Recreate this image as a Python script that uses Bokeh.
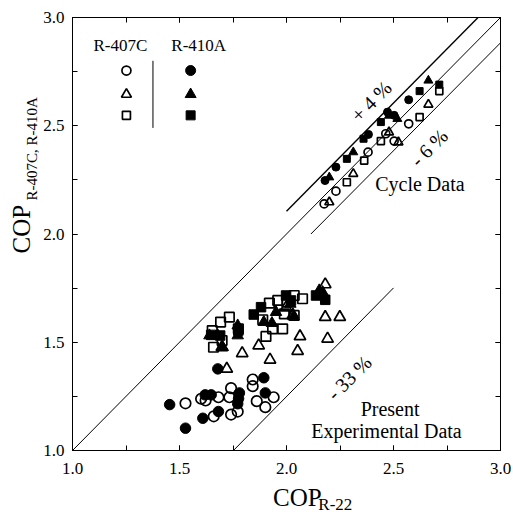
from bokeh.plotting import figure
from bokeh.models import Range1d, LinearAxis, SingleIntervalTicker, PrintfTickFormatter
from bokeh.layouts import row, column
from bokeh.core.properties import value
from bokeh.embed import file_html
from bokeh.resources import INLINE

FONT = "Liberation Serif"

# ---------------- data ----------------
# Cycle data (upper cluster)
cyc_410_circ_x = [2.180, 2.231, 2.383, 2.472, 2.503, 2.571]
cyc_410_circ_y = [2.247, 2.309, 2.460, 2.563, 2.548, 2.620]
cyc_410_tri_x = [2.200, 2.312, 2.479, 2.518, 2.663]
cyc_410_tri_y = [2.262, 2.378, 2.547, 2.532, 2.709]
cyc_410_sq_x = [2.282, 2.360, 2.441, 2.622, 2.714]
cyc_410_sq_y = [2.347, 2.440, 2.517, 2.660, 2.690]
cyc_407_circ_x = [2.176, 2.231, 2.381, 2.464, 2.503, 2.571]
cyc_407_circ_y = [2.139, 2.198, 2.378, 2.463, 2.429, 2.509]
cyc_407_tri_x = [2.200, 2.312, 2.479, 2.523, 2.663]
cyc_407_tri_y = [2.147, 2.278, 2.470, 2.424, 2.598]
cyc_407_sq_x = [2.282, 2.363, 2.441, 2.622, 2.714]
cyc_407_sq_y = [2.239, 2.339, 2.429, 2.540, 2.660]

# Present experimental data (lower cluster)
exp_410_circ_x = [1.454, 1.528, 1.609, 1.620, 1.648, 1.682, 1.679, 1.780, 1.772, 1.894, 1.901, 1.776]
exp_410_circ_y = [1.212, 1.103, 1.149, 1.257, 1.257, 1.180, 1.377, 1.266, 1.216, 1.336, 1.266, 1.240]
exp_410_tri_x = [1.640, 1.679, 1.702, 1.772, 1.772, 1.894, 1.932, 1.951, 2.018, 2.033, 2.153, 2.169]
exp_410_tri_y = [1.531, 1.531, 1.477, 1.577, 1.531, 1.593, 1.588, 1.639, 1.677, 1.619, 1.739, 1.731]
exp_410_sq_x = [1.847, 1.881, 1.998, 2.021, 2.138, 2.181, 1.775, 1.690, 1.648]
exp_410_sq_y = [1.628, 1.662, 1.716, 1.693, 1.716, 1.696, 1.554, 1.531, 1.534]
exp_407_circ_x = [1.528, 1.601, 1.622, 1.682, 1.660, 1.741, 1.733, 1.741, 1.772, 1.842, 1.842, 1.861, 1.901, 1.940]
exp_407_circ_y = [1.218, 1.239, 1.231, 1.246, 1.158, 1.288, 1.246, 1.166, 1.180, 1.328, 1.297, 1.228, 1.200, 1.246]
exp_407_tri_x = [1.721, 1.793, 1.870, 1.923, 2.063, 2.052, 2.181, 2.249, 2.192, 2.181, 1.698, 1.998, 2.030]
exp_407_tri_y = [1.377, 1.449, 1.485, 1.419, 1.527, 1.459, 1.616, 1.616, 1.516, 1.767, 1.477, 1.660, 1.625]
exp_407_sq_x = [1.653, 1.692, 1.733, 1.659, 1.699, 1.904, 1.935, 1.982, 1.889, 1.920, 1.959, 2.002, 2.036, 2.075, 2.036, 1.990, 1.775]
exp_407_sq_y = [1.554, 1.593, 1.616, 1.477, 1.508, 1.527, 1.562, 1.562, 1.604, 1.681, 1.693, 1.685, 1.716, 1.701, 1.624, 1.631, 1.562]

# Reference lines
diag_x = [1.0, 3.0]
diag_y = [1.0, 3.0]
plus4_x = [2.0, 2.895]
plus4_y = [2.105, 3.0]
minus6_x = [2.114, 3.0]
minus6_y = [2.0, 2.883]
minus33_x = [1.752, 2.5]
minus33_y = [1.0, 1.751]

# Legend
legend_titles = ["R-407C", "R-410A"]
legend_title_x = [1.224, 1.590]
legend_title_y = [2.871, 2.871]
leg_open_x = [1.252]
leg_filled_x = [1.552]
leg_circ_y = [2.755]
leg_tri_y = [2.645]
leg_sq_y = [2.548]
leg_sep_x = [1.376, 1.376]
leg_sep_y = [2.49, 2.80]

# Annotations
note_texts = ["+ 4 %", "- 6 %", "- 33 %"]
note_x = [2.396, 2.666, 2.293]
note_y = [2.613, 2.398, 1.336]
label_texts = ["Cycle  Data", "Present", "Experimental  Data"]
label_x = [2.635, 2.484, 2.479]
label_y = [2.232, 1.193, 1.089]

# Axis titles (main text + subscript)
x_title = ["COP"]
x_title_sub = ["R-22"]
y_title = ["COP"]
y_title_sub = ["R-407C, R-410A"]

tick_interval = 0.5

# ---------------- main figure ----------------
p = figure(width=473, height=485, output_backend="svg", toolbar_location=None,
           x_range=Range1d(1.0, 3.0), y_range=Range1d(1.0, 3.0),
           min_border_left=31, min_border_right=13, min_border_top=17, min_border_bottom=35)
p.grid.visible = False
p.outline_line_color = "black"
p.outline_line_width = 1
p.background_fill_color = "white"
p.border_fill_color = "white"


def style_axis(ax, show_labels, standoff=8):
    ax.ticker = SingleIntervalTicker(interval=tick_interval, num_minor_ticks=2)
    ax.formatter = PrintfTickFormatter(format="%.1f")
    ax.major_tick_in = 5
    ax.major_tick_out = 0
    ax.minor_tick_in = 5
    ax.minor_tick_out = 0
    ax.axis_line_color = "black"
    ax.major_tick_line_color = "black"
    ax.minor_tick_line_color = "black"
    ax.major_label_text_font = FONT
    if show_labels:
        ax.major_label_text_color = "black"
        ax.major_label_text_font_size = "17px"
        ax.major_label_standoff = standoff
    else:
        ax.major_label_text_color = None
        ax.major_label_text_font_size = "1px"
        ax.major_label_standoff = 0


style_axis(p.xaxis[0], True, 12)
style_axis(p.yaxis[0], True, 8)
rax = LinearAxis()
style_axis(rax, False)
p.add_layout(rax, "right")
tax = LinearAxis()
style_axis(tax, False)
p.add_layout(tax, "above")

# reference lines
p.line(diag_x, diag_y, line_color="black", line_width=1)
p.line(plus4_x, plus4_y, line_color="black", line_width=1.4)
p.line(minus6_x, minus6_y, line_color="black", line_width=1)
p.line(minus33_x, minus33_y, line_color="black", line_width=1)


def open_pts(x, y, marker, size):
    p.scatter(x, y, marker=marker, size=size, fill_color=None, line_color="black", line_width=1.7)


def filled_pts(x, y, marker, size):
    p.scatter(x, y, marker=marker, size=size, fill_color="black", line_color="black", line_width=1)


cs, ts, ss = 8, 9, 7
open_pts(cyc_407_circ_x, cyc_407_circ_y, "circle", cs)
open_pts(cyc_407_tri_x, cyc_407_tri_y, "triangle", ts)
open_pts(cyc_407_sq_x, cyc_407_sq_y, "square", ss)
filled_pts(cyc_410_circ_x, cyc_410_circ_y, "circle", cs)
filled_pts(cyc_410_tri_x, cyc_410_tri_y, "triangle", ts)
filled_pts(cyc_410_sq_x, cyc_410_sq_y, "square", ss)

cs, ts, ss = 10.5, 11.5, 9.5
filled_pts(exp_410_circ_x, exp_410_circ_y, "circle", cs)
filled_pts(exp_410_tri_x, exp_410_tri_y, "triangle", ts)
filled_pts(exp_410_sq_x, exp_410_sq_y, "square", ss)
open_pts(exp_407_circ_x, exp_407_circ_y, "circle", cs)
open_pts(exp_407_tri_x, exp_407_tri_y, "triangle", ts)
open_pts(exp_407_sq_x, exp_407_sq_y, "square", ss)

# legend
open_pts(leg_open_x, leg_circ_y, "circle", 9)
open_pts(leg_open_x, leg_tri_y, "triangle", 10)
open_pts(leg_open_x, leg_sq_y, "square", 8)
filled_pts(leg_filled_x, leg_circ_y, "circle", 10)
filled_pts(leg_filled_x, leg_tri_y, "triangle", 11)
filled_pts(leg_filled_x, leg_sq_y, "square", 9)
p.line(leg_sep_x, leg_sep_y, line_color="black", line_width=1)
p.text(legend_title_x, legend_title_y, text=legend_titles, text_font=value(FONT),
       text_font_size="17px", text_align="center", text_baseline="middle", text_color="black")

# annotations
p.text(note_x, note_y, text=note_texts, angle=45, angle_units="deg", text_font=value(FONT),
       text_font_size="20px", text_align="center", text_baseline="middle", text_color="black")
p.text(label_x, label_y, text=label_texts, text_font=value(FONT),
       text_font_size="20px", text_align="center", text_baseline="middle", text_color="black")


# ---------------- axis title panels ----------------
def blank_fig(w, h):
    f = figure(width=w, height=h, output_backend="svg", toolbar_location=None, title=None,
               x_range=Range1d(0, w), y_range=Range1d(0, h),
               x_axis_type=None, y_axis_type=None, min_border=0)
    f.grid.visible = False
    f.outline_line_color = None
    f.background_fill_color = "white"
    f.border_fill_color = "white"
    return f


# bottom title (below main plot, right of left title panel)
bx = blank_fig(473, 28)
bx.text([221.7], [16.5], text=x_title, text_font=value(FONT), text_font_size="25px",
        text_align="left", text_baseline="middle", text_color="black")
bx.text([271.7], [9], text=x_title_sub, text_font=value(FONT), text_font_size="17px",
        text_align="left", text_baseline="middle", text_color="black")

# left title (rotated)
ly = blank_fig(40, 513)
ly.text([20.5], [260], text=y_title, angle=90, angle_units="deg", text_font=value(FONT),
        text_font_size="25px", text_align="left", text_baseline="middle", text_color="black")
ly.text([31.5], [313], text=y_title_sub, angle=90, angle_units="deg", text_font=value(FONT),
        text_font_size="15px", text_align="left", text_baseline="middle", text_color="black")

layout = row(ly, column(p, bx, spacing=0), spacing=0)

open("out.html", "w").write(file_html(layout, INLINE))
